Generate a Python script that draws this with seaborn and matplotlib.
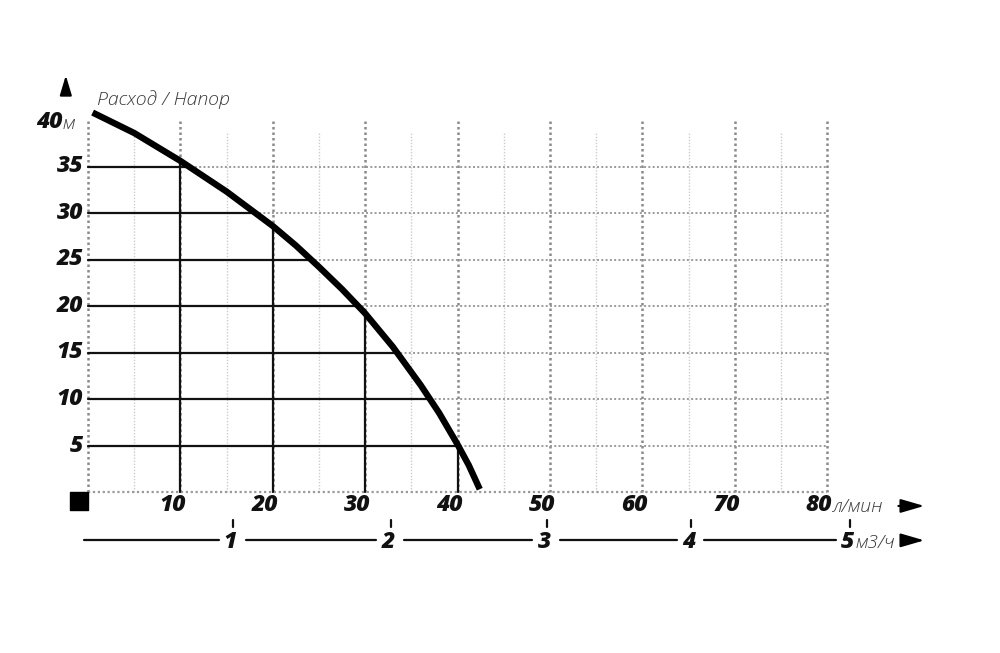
import numpy as np
import pandas as pd
import matplotlib
matplotlib.use("Agg")
import matplotlib.pyplot as plt
import seaborn as sns

# ---- data ----
flow_lpm = [0.5, 5.0, 10.0, 15.0, 20.0, 22.5, 25.0, 27.5, 30.0, 33.0, 36.0, 38.0, 40.0, 41.2, 42.4]
head_m = [40.8, 38.6, 35.6, 32.3, 28.6, 26.5, 24.2, 21.8, 19.2, 15.6, 11.5, 8.5, 5.1, 2.9, 0.3]
x_ticks = [10, 20, 30, 40, 50, 60, 70, 80]
y_ticks = [5, 10, 15, 20, 25, 30, 35]
ref_x = [10, 20, 30, 40]
ref_y = [35, 30, 25, 20, 15, 10, 5]
m3h_labels = ["1", "2", "3", "4", "5"]
m3h_pos = [15.7, 32.8, 49.7, 65.3, 82.5]

sns.set_theme(style="white")
plt.rcParams['font.family'] = ['Open Sans', 'DejaVu Sans']

fig = plt.figure(figsize=(10, 6.53), dpi=100)
px = 9.24   # pixels per l/min
py = 9.3    # pixels per m
x0, y0 = 88, 492
xmin, xmax = -2, 92
ymin, ymax = -3, 44
left = (x0 + xmin * px) / 1000
width = (xmax - xmin) * px / 1000
bottom = 1 - (y0 - ymin * py) / 653
height = (ymax - ymin) * py / 653
ax = fig.add_axes([left, bottom, width, height])

# grid
dot = (0, (1, 1.2))
for x in range(5, 80, 10):
    ax.plot([x, x], [0, 38.6], color="#cccccc", lw=1.0, ls=dot, zorder=1)
for x in range(10, 90, 10):
    ax.plot([x, x], [0, 40], color="#8a8a8a", lw=1.8, ls=dot, zorder=1)
ax.plot([0, 0], [0, 40], color="#8a8a8a", lw=1.8, ls=dot, zorder=1)
for y in ref_y:
    ax.plot([0, 80], [y, y], color="#9a9a9a", lw=1.4, ls=dot, zorder=1)
ax.plot([0, 80], [0, 0], color="#9a9a9a", lw=1.6, ls=dot, zorder=1)

# reference lines to the curve
fx = np.array(flow_lpm)
hy = np.array(head_m)
for x in ref_x:
    h = np.interp(x, fx, hy)
    ax.plot([x, x], [0, h], color="#111111", lw=1.6, zorder=2)
for y in ref_y:
    f = np.interp(y, hy[::-1], fx[::-1])
    ax.plot([0, f], [y, y], color="#111111", lw=1.6, zorder=2)

# curve
df = pd.DataFrame({"flow": flow_lpm, "head": head_m})
sns.lineplot(data=df, x="flow", y="head", sort=False, estimator=None,
             color="black", lw=4.6, ax=ax, zorder=3, legend=False)
ax.lines[-1].set_solid_joinstyle("round")
ax.lines[-1].set_solid_capstyle("butt")
ax.set_xlim(xmin, xmax)
ax.set_ylim(ymin, ymax)
ax.axis("off")

lbl = dict(fontsize=16.5, fontweight="heavy", fontstyle="italic", color="#111111")
unit = dict(fontsize=14, fontweight="light", fontstyle="italic", color="#3a3a3a")

for y in y_ticks:
    ax.text(-0.55, y, str(y), ha="right", va="center", **lbl)
ax.text(-2.7, 39.8, "40", ha="right", va="center", **lbl)
ax.text(-2.7, 39.6, "м", ha="left", va="center", **unit)
ax.text(1.0, 42.2, "Расход / Напор", ha="left", va="center", **unit)

for x in x_ticks:
    ax.text(x - 0.9, -1.45, str(x), ha="center", va="center", **lbl)
ax.text(80.6, -1.6, "л/мин", ha="left", va="center", **unit)

# second axis (m3/h)
yl = -5.2
segs = [(-0.4, 14.2)] + [(m3h_pos[i] + 1.4, m3h_pos[i + 1] - 1.6) for i in range(4)]
for a, b in segs:
    ax.plot([a, b], [yl, yl], color="#111111", lw=1.6, clip_on=False)
for p, t in zip(m3h_pos, m3h_labels):
    ax.text(p - 0.3, yl - 0.2, t, ha="center", va="center", **lbl)
    ax.plot([p, p], [yl + 1.45, yl + 2.2], color="#111111", lw=1.6, clip_on=False)
ax.text(83.1, yl - 0.3, "м3/ч", ha="left", va="center", **unit)

# arrows
ax.annotate("", xy=(90.8, -1.5), xytext=(87.4, -1.5),
            arrowprops=dict(arrowstyle="-|>,head_length=1.2,head_width=0.35", color="black", lw=1.5),
            annotation_clip=False)
ax.annotate("", xy=(90.8, yl), xytext=(88.6, yl),
            arrowprops=dict(arrowstyle="-|>,head_length=1.2,head_width=0.35", color="black", lw=1.5),
            annotation_clip=False)
ax.annotate("", xy=(-2.4, 45.1), xytext=(-2.4, 42.6),
            arrowprops=dict(arrowstyle="-|>,head_length=1.0,head_width=0.3", color="black", lw=1.5),
            annotation_clip=False)

# origin square
ax.scatter([-1.0], [-1.0], marker="s", s=170, color="black", zorder=4, clip_on=False)

fig.savefig("out.png", dpi=100, facecolor="white")
